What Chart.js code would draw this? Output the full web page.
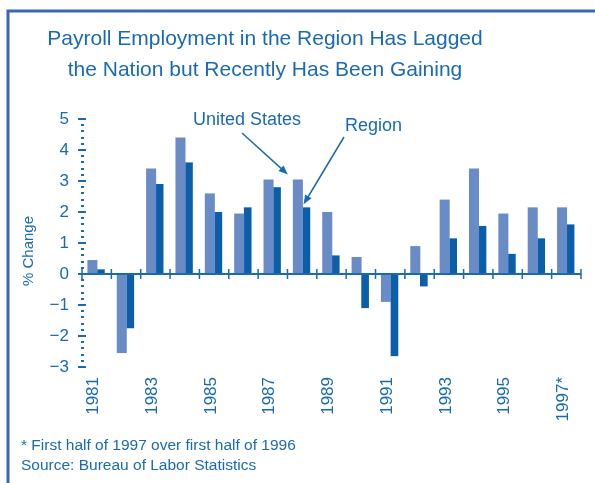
<!DOCTYPE html>
<html>
<head>
<meta charset="utf-8">
<script src="https://cdn.jsdelivr.net/npm/chart.js@4/dist/chart.umd.min.js"></script>
<style>
  body { margin: 0; background: #fff; }
  canvas { display: block; }
</style>
</head>
<body>
<canvas id="myChart" width="595" height="483"></canvas>
<script>
const years = ['1981','1982','1983','1984','1985','1986','1987','1988','1989','1990','1991','1992','1993','1994','1995','1996','1997*']
const unitedStates = [0.45, -2.55, 3.4, 4.4, 2.6, 1.95, 3.05, 3.05, 2.0, 0.55, -0.9, 0.9, 2.4, 3.4, 1.95, 2.15, 2.15]
const region = [0.15, -1.75, 2.9, 3.6, 2.0, 2.15, 2.8, 2.15, 0.6, -1.1, -2.65, -0.4, 1.15, 1.55, 0.65, 1.15, 1.6]
const titleLines = ['Payroll Employment in the Region Has Lagged', 'the Nation but Recently Has Been Gaining']
const notes = ['* First half of 1997 over first half of 1996', 'Source: Bureau of Labor Statistics']

const azul = '#1a6ab2'
const azulClaro = '#6a8cc6'
const azulOscuro = '#0a5fa8'
const fuente = '"Liberation Sans", Arial, sans-serif'

Chart.defaults.font.family = fuente
Chart.defaults.color = azul

const flecha = (c, x1, y1, x2, y2) => {
  const ang = Math.atan2(y2 - y1, x2 - x1)
  const largo = 10
  c.beginPath()
  c.moveTo(x1, y1)
  c.lineTo(x2 - Math.cos(ang) * largo * 0.8, y2 - Math.sin(ang) * largo * 0.8)
  c.stroke()
  c.beginPath()
  c.moveTo(x2, y2)
  c.lineTo(x2 - largo * Math.cos(ang - 0.38), y2 - largo * Math.sin(ang - 0.38))
  c.lineTo(x2 - largo * Math.cos(ang + 0.38), y2 - largo * Math.sin(ang + 0.38))
  c.closePath()
  c.fill()
}

// marco, titulo, ejes, notas y flechas
const decoracion = {
  id: 'decoracion',
  beforeDraw(chart) {
    const c = chart.ctx
    c.save()
    c.strokeStyle = '#3a66b4'
    c.lineWidth = 3
    c.beginPath()
    c.moveTo(8, 490)
    c.lineTo(8, 11)
    c.lineTo(600, 11)
    c.stroke()

    c.fillStyle = azul
    c.textAlign = 'center'
    c.textBaseline = 'alphabetic'
    c.font = '21px ' + fuente
    c.fillText(titleLines[0], 265, 45)
    c.fillText(titleLines[1], 265, 76)

    c.textAlign = 'left'
    c.font = '15.5px ' + fuente
    c.fillText(notes[0], 21, 450)
    c.fillText(notes[1], 21, 470)

    c.save()
    c.translate(33, 251)
    c.rotate(-Math.PI / 2)
    c.textAlign = 'center'
    c.font = '15px ' + fuente
    c.fillText('% Change', 0, 0)
    c.restore()
    c.restore()
  },
  afterDatasetsDraw(chart) {
    const c = chart.ctx
    const x = chart.scales.x
    const y = chart.scales.y
    const cero = y.getPixelForValue(0)
    c.save()
    c.strokeStyle = azul
    c.fillStyle = azul

    // marcas del eje y
    for (let v = y.min; v <= y.max + 0.001; v += 0.2) {
      const py = Math.round(y.getPixelForValue(v))
      const entero = Math.abs(v - Math.round(v)) < 0.01
      if (entero) c.fillRect(x.left - 4, py - 1, 8, 2)
      else c.fillRect(x.left - 1, py - 1, 3, 2)
    }

    // linea del cero con marcas
    c.lineWidth = 2
    c.beginPath()
    c.moveTo(x.left - 4, cero)
    c.lineTo(x.right, cero)
    c.stroke()
    c.lineWidth = 1.5
    for (let i = 0; i <= years.length; i++) {
      const px = x.getPixelForValue(i - 0.5)
      c.beginPath()
      c.moveTo(px, cero - 5)
      c.lineTo(px, cero + 5)
      c.stroke()
    }

    // anotaciones
    c.font = '18px ' + fuente
    c.textAlign = 'left'
    c.fillText('United States', 193, 125)
    c.fillText('Region', 345, 131)
    const barUS = chart.getDatasetMeta(0).data[7]
    const barReg = chart.getDatasetMeta(1).data[7]
    c.lineWidth = 1.5
    flecha(c, 242, 133, barUS.x - barUS.width / 2 - 5, barUS.y - 5)
    flecha(c, 344, 137, barReg.x - barReg.width / 2 + 1, barReg.y - 3)
    c.restore()
  }
}

const ctx = document.getElementById('myChart')

const grafico = new Chart(ctx, {
  type: 'bar',
  data: {
    labels: years,
    datasets: [{
      label: 'United States',
      data: unitedStates,
      backgroundColor: azulClaro,
      barPercentage: 1.18,
      categoryPercentage: 0.58
    }, {
      label: 'Region',
      data: region,
      backgroundColor: azulOscuro,
      barPercentage: 0.9,
      categoryPercentage: 0.58
    }]
  },
  options: {
    responsive: false,
    devicePixelRatio: 1,
    animation: false,
    layout: { padding: { top: 119, left: 0, right: 14, bottom: 0 } },
    plugins: {
      legend: { display: false },
      tooltip: { enabled: false },
      title: { display: false }
    },
    scales: {
      x: {
        grid: { display: false },
        border: { display: false },
        afterFit: (scale) => { scale.height = 116 },
        ticks: {
          autoSkip: false,
          minRotation: 90,
          maxRotation: 90,
          padding: 2,
          labelOffset: -3,
          color: azul,
          font: { size: 17 },
          callback: (v, i) => i % 2 === 0 ? years[i] : ''
        }
      },
      y: {
        min: -3,
        max: 5,
        grid: { display: false },
        border: { display: false },
        afterFit: (scale) => { scale.width = 82 },
        ticks: {
          stepSize: 1,
          padding: 5,
          color: azul,
          font: { size: 17 },
          callback: (v) => v < 0 ? '\u2212' + Math.abs(v) : String(v)
        }
      }
    }
  },
  plugins: [decoracion]
})
</script>
</body>
</html>
